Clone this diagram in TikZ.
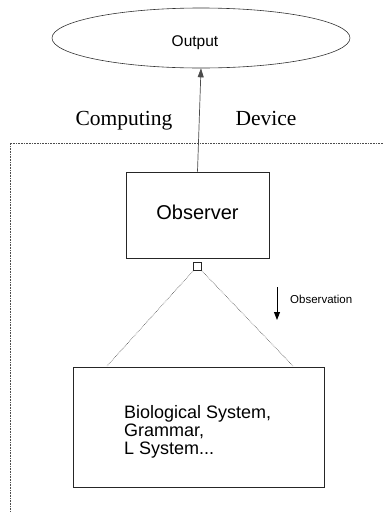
\documentclass[tikz,border=0pt]{standalone}
\usepackage{fontspec}
\setmainfont{Liberation Sans}
\newfontfamily\serifface{Liberation Serif}
\usetikzlibrary{shapes.geometric,arrows.meta}
\begin{document}
\begin{tikzpicture}[x=1pt,y=-1pt,
  boxstyle/.style={draw=black!85,line width=0.8pt,inner sep=0pt},
  dotline/.style={draw=black!70,densely dotted,line width=0.6pt},
  arr/.style={draw=black!70,line width=0.7pt,-{Triangle[length=9pt,width=6pt]}}]
\useasboundingbox (0,0) rectangle (383,512);
\fill[white] (0,0) rectangle (383,512);
% output ellipse
\node[ellipse,draw=black!80,line width=0.6pt,minimum width=298pt,minimum height=60pt,inner sep=0pt] (out) at (201,38) {};
\node[anchor=base,font=\fontsize{15.5}{18}\selectfont,inner sep=0pt] (outtxt) at (195,46) {Output};
% computing device labels
\node[anchor=base,font=\serifface\fontsize{21.5}{24}\selectfont,inner sep=0pt] (comp) at (124,125) {Computing};
\node[anchor=base,font=\serifface\fontsize{21.5}{24}\selectfont,inner sep=0pt] (dev) at (266,125) {Device};
% dotted frame
\coordinate (ftr) at (383,143);
\coordinate (ftl) at (10,143);
\coordinate (fbl) at (10,512);
\draw[dotline] (ftr) -- (ftl) -- (fbl);
% observer
\node[boxstyle,minimum width=143pt,minimum height=86pt] (obs) at (197.5,215) {};
\node[anchor=base,font=\fontsize{20}{22}\selectfont,inner sep=0pt] (obstitle) at (197.5,219) {Observer};
\draw[arr] (obs.north) -- (out.south);
% small square
\node[draw=black!85,line width=0.8pt,minimum size=8pt,inner sep=0pt] (sq) at (197.5,266.5) {};
% system box
\node[boxstyle,minimum width=251pt,minimum height=120pt] (sys) at (198.5,427) {};
\node[anchor=base west,align=left,font=\fontsize{18}{18}\selectfont,inner sep=0pt] (systxt) at (124,454) {Biological System,\\Grammar,\\L System...};
\coordinate (sl) at (107,366);
\coordinate (sr) at (293,366);
\draw[dotline] (sq.south west) -- (sl);
\draw[dotline] (sq.south east) -- (sr);
% observation arrow
\coordinate (oa1) at (277,287);
\coordinate (oa2) at (277,320);
\draw[draw=black,line width=0.9pt,-{Triangle[length=8pt,width=6pt]}] (oa1) -- (oa2);
\node[anchor=base west,font=\fontsize{11.5}{13}\selectfont,inner sep=0pt] (obstxt) at (290,303) {Observation};
\end{tikzpicture}
\end{document}
